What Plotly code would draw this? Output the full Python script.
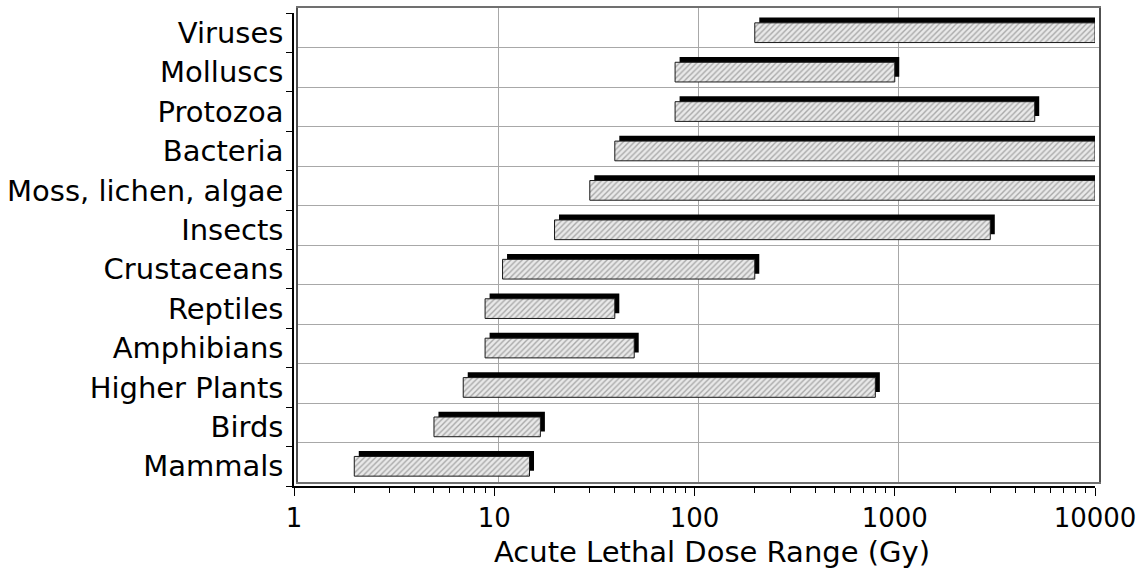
import plotly.graph_objects as go

categories = ["Mammals", "Birds", "Higher Plants", "Amphibians", "Reptiles",
              "Crustaceans", "Insects", "Moss, lichen, algae", "Bacteria",
              "Protozoa", "Molluscs", "Viruses"]
dose_low = [2, 5, 7, 9, 9, 11, 20, 30, 40, 80, 80, 200]
dose_high = [15, 17, 800, 50, 40, 200, 3000, 10000, 10000, 5000, 1000, 10000]

x_tick_vals = [1, 10, 100, 1000, 10000]
x_tick_text = ["1", "10", "100", "1000", "10000"]
x_title = "Acute Lethal Dose Range (Gy)"

FONT = "DejaVu Sans"
depth = 10 ** (4.5 / 200.25)  # 3-D depth offset as a multiplicative factor on the log axis

fig = go.Figure()

# invisible trace to anchor the back-wall subplot
fig.add_trace(go.Scatter(x=[1], y=[0], xaxis="x", yaxis="y", mode="markers",
                         marker=dict(opacity=0), hoverinfo="skip", showlegend=False))

# 3-D "depth" (black top/right faces)
fig.add_trace(go.Bar(
    y=categories, base=[l * depth for l in dose_low],
    x=[h * depth - l * depth for l, h in zip(dose_low, dose_high)],
    orientation="h", xaxis="x2", yaxis="y2",
    width=0.5, offset=-0.25 + 0.135,
    marker=dict(color="black", line=dict(width=0)),
    showlegend=False, hoverinfo="skip"))

# front faces (hatched)
fig.add_trace(go.Bar(
    y=categories, base=dose_low,
    x=[h - l for l, h in zip(dose_low, dose_high)],
    orientation="h", xaxis="x2", yaxis="y2",
    width=0.5, offset=-0.25,
    marker=dict(color="#e4e4e4",
                pattern=dict(shape="/", fgcolor="#6a6a6a", bgcolor="#e9e9e9",
                             size=4, solidity=0.35),
                line=dict(color="#1a1a1a", width=1)),
    showlegend=False))

fig.update_layout(
    width=1145, height=574,
    margin=dict(l=294, r=46, t=8, b=88, autoexpand=False),
    paper_bgcolor="white", plot_bgcolor="rgba(0,0,0,0)",
    barmode="overlay",
    font=dict(family=FONT, color="black"),
    # back wall
    xaxis=dict(type="log", range=[0, 4], domain=[4 / 805, 1], anchor="y",
               tickvals=[10, 100, 1000], showticklabels=False, ticks="",
               showgrid=True, gridcolor="#a8a8a8", gridwidth=1,
               showline=True, mirror=True, linecolor="#707070", linewidth=1.5,
               zeroline=False, automargin=False),
    yaxis=dict(range=[-0.5, 11.5], domain=[4 / 478, 1], anchor="x",
               tickvals=[i + 0.5 for i in range(11)], showticklabels=False,
               ticks="", showgrid=True, gridcolor="#a8a8a8", gridwidth=1,
               showline=True, mirror=True, linecolor="#505050", linewidth=1.5,
               zeroline=False, automargin=False),
    # front axes
    xaxis2=dict(type="log", range=[0, 4], domain=[0, 801 / 805], anchor="y2",
                tickvals=x_tick_vals, ticktext=x_tick_text,
                ticks="outside", ticklen=8, tickcolor="black", tickwidth=1,
                minor=dict(ticks="outside", ticklen=5, tickcolor="black",
                           dtick="D1", showgrid=False),
                showgrid=False, showline=True, linecolor="black", linewidth=1.5,
                tickfont=dict(family=FONT, size=26, color="black"),
                zeroline=False, automargin=False),
    yaxis2=dict(type="category", categoryorder="array", categoryarray=categories,
                range=[-0.5, 11.5], domain=[0, 473 / 478], anchor="x2",
                tickson="boundaries", ticks="outside", ticklen=6,
                tickcolor="black", tickwidth=1, ticklabelstandoff=3,
                showgrid=False, showline=True, linecolor="black", linewidth=1.5,
                tickfont=dict(family=FONT, size=29, color="black"),
                automargin=False),
    annotations=[dict(text=x_title, xref="paper", yref="paper",
                      x=0.519, y=-0.138, xanchor="center", yanchor="middle",
                      showarrow=False,
                      font=dict(family=FONT, size=29, color="black"))],
)

fig.write_html("out.html", config={"displayModeBar": False},
               post_script="document.body.style.margin='0';document.body.style.overflow='hidden';")
